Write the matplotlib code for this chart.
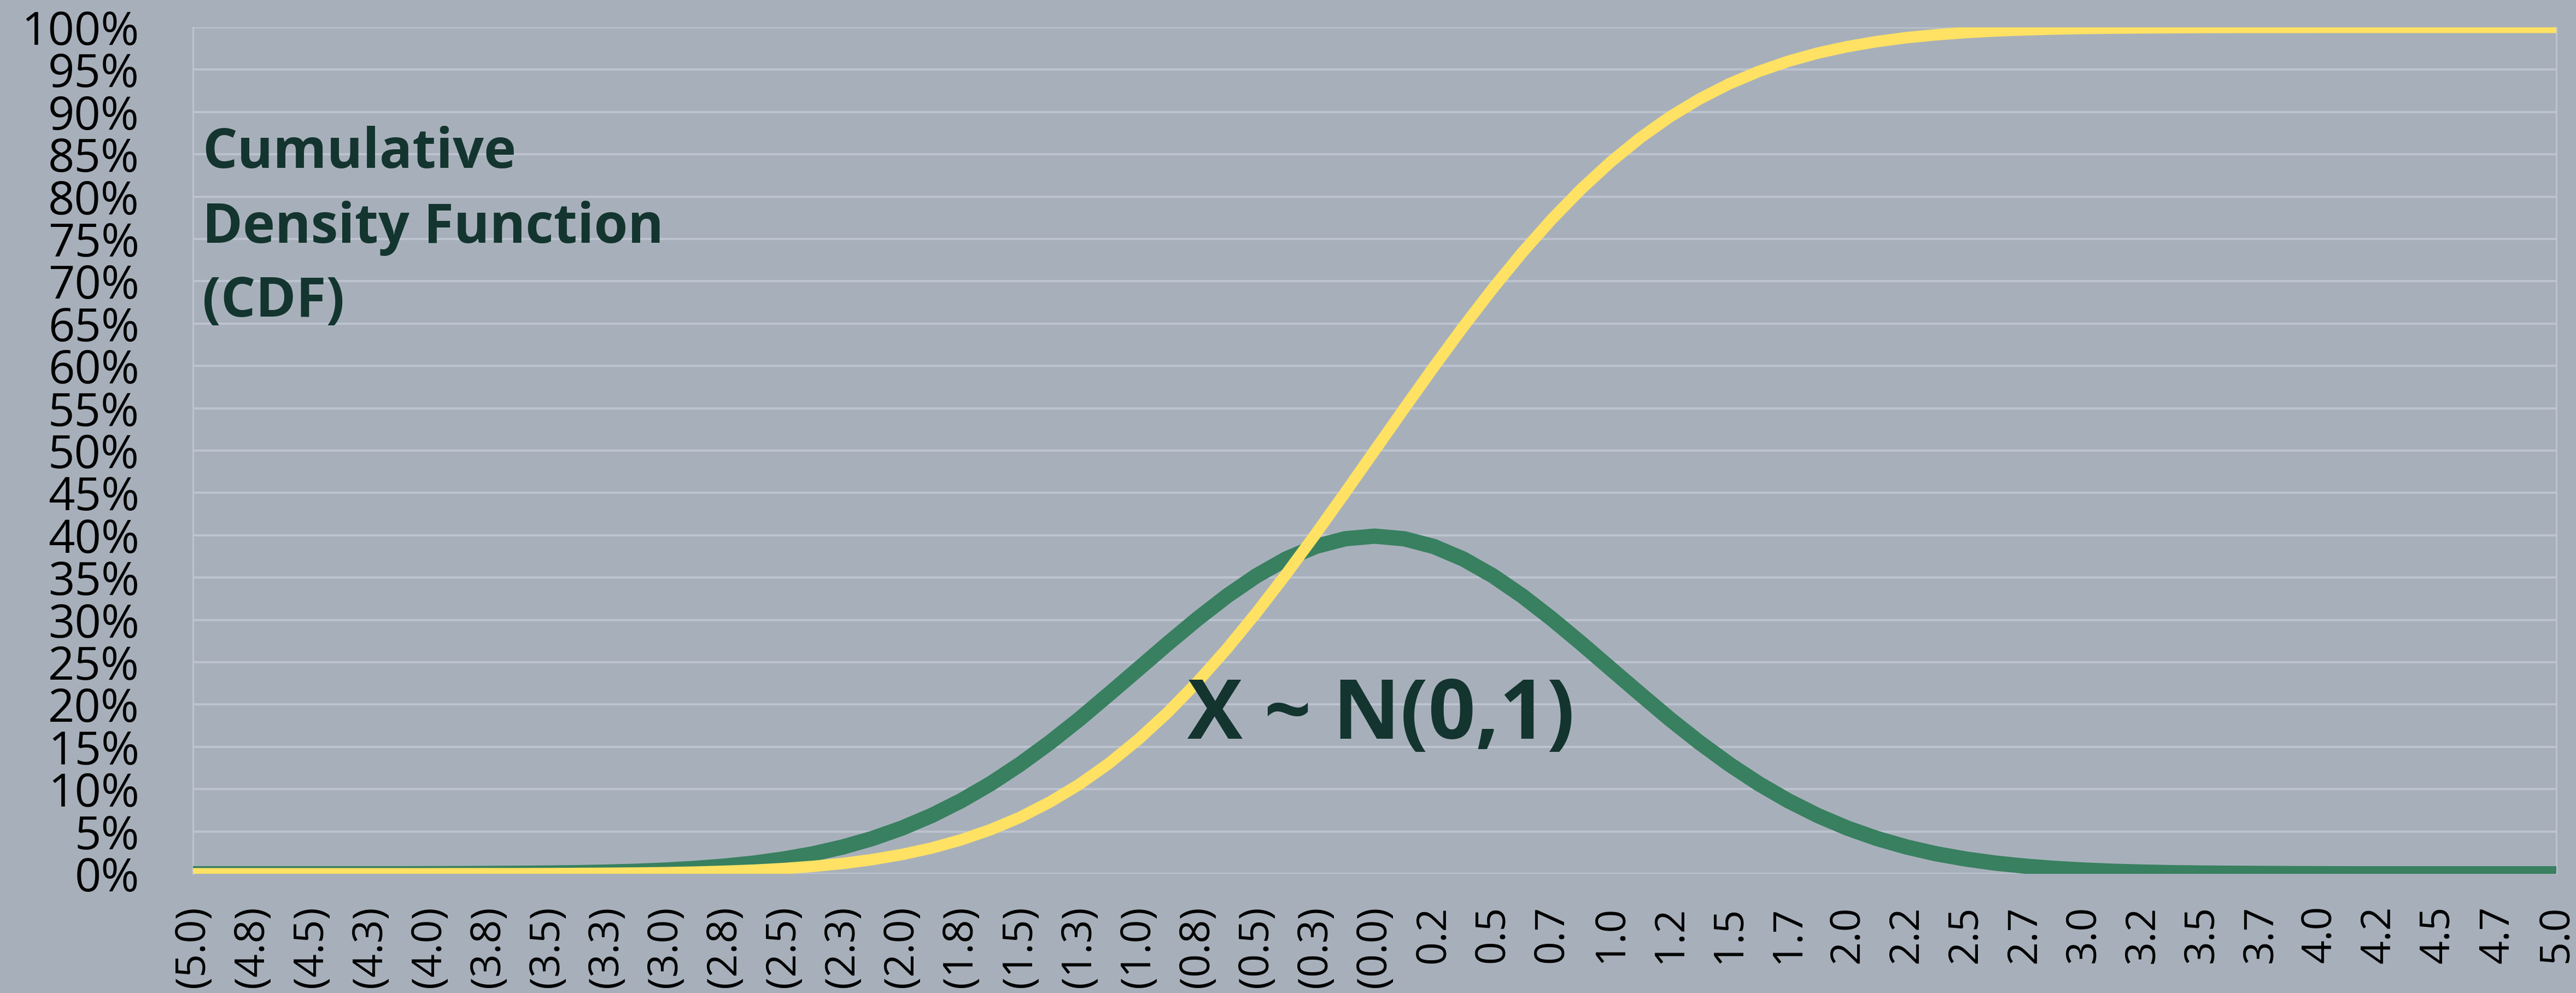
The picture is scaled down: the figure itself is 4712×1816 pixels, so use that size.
import numpy as np
import matplotlib
matplotlib.use("Agg")
import matplotlib.pyplot as plt

# ---- data ----
x_values = np.arange(-5.0, 5.0001, 0.125)

pdf_values = [
    0.0000, 0.0000, 0.0000, 0.0000, 0.0000, 0.0000, 0.0000, 0.0000,
    0.0001, 0.0002, 0.0004, 0.0006, 0.0009, 0.0013, 0.0020, 0.0030,
    0.0044, 0.0064, 0.0091, 0.0127, 0.0175, 0.0237, 0.0317, 0.0417,
    0.0540, 0.0688, 0.0863, 0.1065, 0.1295, 0.1550, 0.1826, 0.2121,
    0.2420, 0.2721, 0.3011, 0.3282, 0.3521, 0.3719, 0.3867, 0.3958,
    0.3989,
    0.3958, 0.3867, 0.3719, 0.3521, 0.3282, 0.3011, 0.2721, 0.2420,
    0.2121, 0.1826, 0.1550, 0.1295, 0.1065, 0.0863, 0.0688, 0.0540,
    0.0417, 0.0317, 0.0237, 0.0175, 0.0127, 0.0091, 0.0064, 0.0044,
    0.0030, 0.0020, 0.0013, 0.0009, 0.0006, 0.0004, 0.0002, 0.0001,
    0.0000, 0.0000, 0.0000, 0.0000, 0.0000, 0.0000, 0.0000, 0.0000,
]

cdf_values = [
    0.0000, 0.0000, 0.0000, 0.0000, 0.0000, 0.0000, 0.0000, 0.0000,
    0.0000, 0.0001, 0.0001, 0.0001, 0.0002, 0.0004, 0.0006, 0.0009,
    0.0013, 0.0020, 0.0030, 0.0043, 0.0062, 0.0088, 0.0122, 0.0168,
    0.0228, 0.0304, 0.0401, 0.0521, 0.0668, 0.0846, 0.1056, 0.1303,
    0.1587, 0.1908, 0.2266, 0.2659, 0.3085, 0.3538, 0.4013, 0.4503,
    0.5000,
    0.5497, 0.5987, 0.6462, 0.6915, 0.7341, 0.7734, 0.8092, 0.8413,
    0.8697, 0.8944, 0.9154, 0.9332, 0.9479, 0.9599, 0.9696, 0.9772,
    0.9832, 0.9878, 0.9912, 0.9938, 0.9957, 0.9970, 0.9980, 0.9987,
    0.9991, 0.9994, 0.9996, 0.9998, 0.9999, 0.9999, 0.9999, 1.0000,
    1.0000, 1.0000, 1.0000, 1.0000, 1.0000, 1.0000, 1.0000, 1.0000,
]

tick_positions = np.arange(-5.0, 5.0001, 0.25)
tick_labels = [
    "(5.0)", "(4.8)", "(4.5)", "(4.3)", "(4.0)", "(3.8)", "(3.5)", "(3.3)",
    "(3.0)", "(2.8)", "(2.5)", "(2.3)", "(2.0)", "(1.8)", "(1.5)", "(1.3)",
    "(1.0)", "(0.8)", "(0.5)", "(0.3)", "(0.0)", "0.2", "0.5", "0.7",
    "1.0", "1.2", "1.5", "1.7", "2.0", "2.2", "2.5", "2.7",
    "3.0", "3.2", "3.5", "3.7", "4.0", "4.2", "4.5", "4.7", "5.0",
]
y_ticks = np.arange(0, 1.0001, 0.05)
y_labels = [f"{int(round(v * 100))}%" for v in y_ticks]

# ---- style ----
BG = "#A7B0BA"
GRID = "#BCC3CF"
GREEN = "#388060"
YELLOW = "#FFE164"
TEXT_DARK = "#14352F"

W, H, DPI = 4712, 1816, 100
fig = plt.figure(figsize=(W / DPI, H / DPI), dpi=DPI, facecolor=BG)
ax = fig.add_axes([353 / W, 1 - 1598 / H, (4676 - 353) / W, (1598 - 50) / H])
ax.set_facecolor(BG)

px = 72 / DPI  # points per pixel

ax.plot(x_values, pdf_values, color=GREEN, lw=28 * px, solid_capstyle="round",
        solid_joinstyle="round", zorder=3)
ax.plot(x_values, cdf_values, color=YELLOW, lw=21 * px, solid_capstyle="round",
        solid_joinstyle="round", zorder=4)

ax.set_xlim(-5, 5)
ax.set_ylim(0, 1)
ax.set_yticks(y_ticks)
ax.set_yticklabels(y_labels)
ax.set_xticks(tick_positions)
ax.set_xticklabels(tick_labels, rotation=90)

ax.yaxis.grid(True, color=GRID, lw=4 * px, zorder=1)
ax.xaxis.grid(False)
ax.set_axisbelow(True)
for side in ["top", "bottom"]:
    ax.spines[side].set_visible(False)
for side in ["left", "right"]:
    ax.spines[side].set_color(GRID)
    ax.spines[side].set_linewidth(3 * px)

ax.tick_params(axis="y", length=0, pad=98 * px, labelsize=61, labelcolor="black")
ax.tick_params(axis="x", length=0, pad=58 * px, labelsize=54, labelcolor="black")
for lab in ax.get_yticklabels() + ax.get_xticklabels():
    lab.set_fontfamily(["Open Sans", "DejaVu Sans"])

# annotation texts
title_lines = ["Cumulative", "Density Function", "(CDF)"]
baselines = [307, 444, 579]
for line, yb in zip(title_lines, baselines):
    fig.text(370 / W, 1 - yb / H, line, fontsize=72, fontweight="bold",
             color=TEXT_DARK, family=["Open Sans", "DejaVu Sans"],
             ha="left", va="baseline")

fig.text(2172 / W, 1 - 1351 / H, "X ~ N(0,1)", fontsize=109, fontweight="bold",
         color=TEXT_DARK, family=["Open Sans", "DejaVu Sans"],
         ha="left", va="baseline")

fig.savefig("out.png", dpi=DPI, facecolor=BG)
